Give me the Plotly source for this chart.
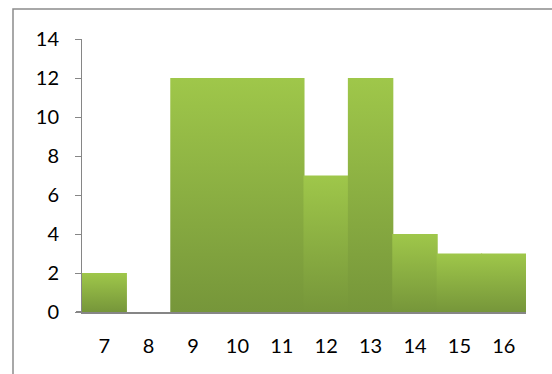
import plotly.graph_objects as go

categories = ["7", "8", "9", "10", "11", "12", "13", "14", "15", "16"]
values = [2, 0, 12, 12, 12, 7, 12, 4, 3, 3]
y_ticks = [0, 2, 4, 6, 8, 10, 12, 14]

TOP = "#9fc74a"
BOTTOM = "#76963a"

W, H = 552, 374
L, R, T, B = 82, 26, 39, 62
EPS = 0.012

fig = go.Figure()
for i, v in enumerate(values):
    if v <= 0:
        continue
    x0, x1 = i - 0.5 - EPS, i + 0.5 + EPS
    fig.add_trace(go.Scatter(
        x=[x0, x1, x1, x0, x0], y=[0, 0, v, v, 0],
        mode="lines", line=dict(width=0), fill="toself",
        fillgradient=dict(type="vertical", colorscale=[[0, BOTTOM], [1, TOP]]),
        hoverinfo="skip", showlegend=False,
    ))

pw = W - L - R
ph = H - T - B
def px_x(p):
    return (p - L) / pw
def px_y(p):
    return 1 - (p - T) / ph

fig.add_shape(type="rect", xref="paper", yref="paper",
              x0=px_x(13), x1=px_x(600), y0=px_y(400), y1=px_y(9),
              line=dict(color="#8c8c8c", width=1.5), fillcolor="rgba(0,0,0,0)")
fig.add_shape(type="line", xref="paper", yref="paper",
              x0=px_x(76), x1=0, y0=0, y1=0,
              line=dict(color="#868686", width=2))

fig.update_layout(
    width=W, height=H,
    margin=dict(l=L, r=R, t=T, b=B),
    paper_bgcolor="white", plot_bgcolor="white",
    font=dict(family="Lato, Liberation Sans, sans-serif", size=20, color="black"),
    showlegend=False,
)
fig.update_xaxes(
    range=[-0.5, len(categories) - 0.5],
    tickvals=list(range(len(categories))), ticktext=categories,
    showgrid=False, zeroline=False,
    showline=True, linecolor="#868686", linewidth=2,
    ticks="", ticklabelstandoff=15,
)
fig.update_yaxes(
    range=[0, 14], tickvals=y_ticks,
    showgrid=False, zeroline=False,
    showline=True, linecolor="#868686", linewidth=1,
    ticks="outside", ticklen=6, tickcolor="#868686", tickwidth=1,
    ticklabelstandoff=12,
)

fig.write_html("out.html")
